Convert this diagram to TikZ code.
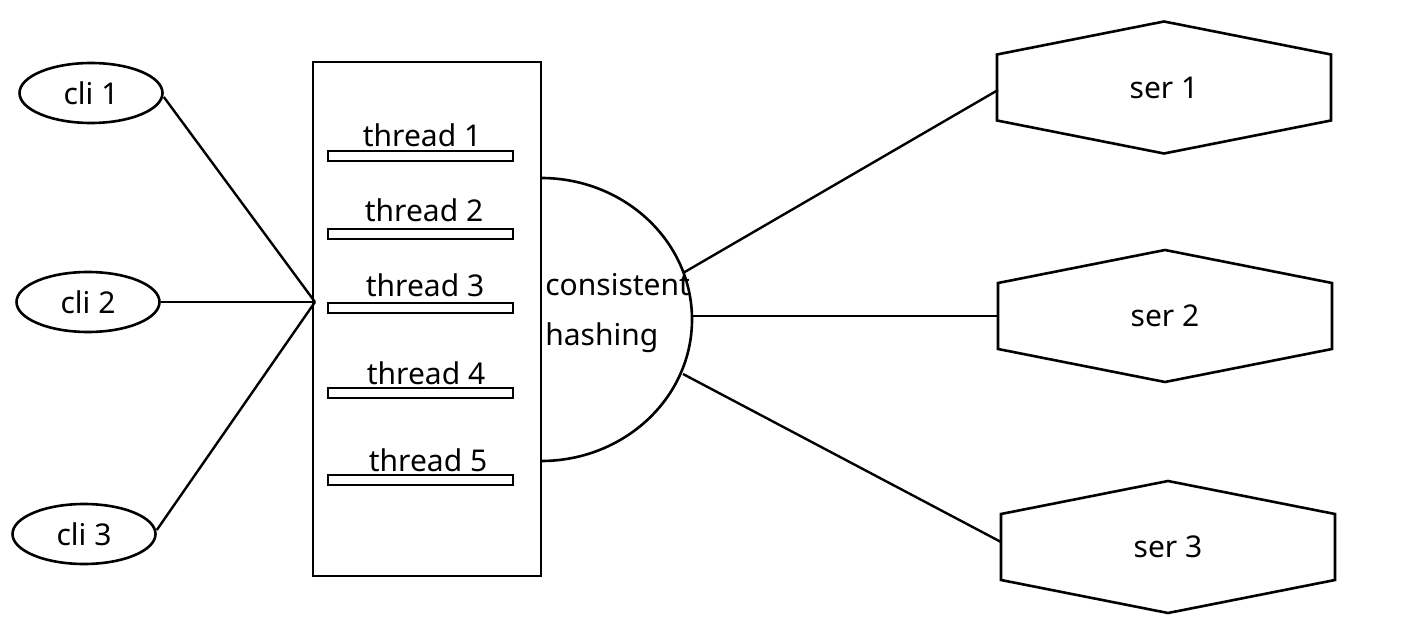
\documentclass[tikz,border=0pt]{standalone}
\usepackage{fontspec}
\setmainfont{Noto Sans}
\usetikzlibrary{shapes.geometric}
\begin{document}
\begin{tikzpicture}[x=1pt,y=-1pt,line width=2.6pt,
  every node/.style={font=\fontsize{30}{36}\selectfont},
  cli/.style={draw,ellipse,minimum width=143pt,minimum height=60pt,inner sep=0pt},
  bar/.style={draw,line width=2.8pt},
  lbl/.style={anchor=base,inner sep=0pt},
  link/.style={line width=2.4pt}]
\useasboundingbox (0,0) rectangle (1424,620);
% clients
\node[cli] (c1) at (91,93) {cli 1};
\node[cli] (c2) at (88,302) {cli 2};
\node[cli] (c3) at (84,534) {cli 3};
% thread pool box
\node[draw,minimum width=228pt,minimum height=514pt,inner sep=0pt] (box) at (427,319) {};
\coordinate (hub) at (315,302);
\foreach \i/\y in {1/151,2/229,3/303,4/388,5/475}{
  \draw[bar] (328,\y) rectangle (513,\y+10);
}
\node[lbl] (t1) at (422,147) {thread 1};
\node[lbl] (t2) at (424,222) {thread 2};
\node[lbl] (t3) at (425,297) {thread 3};
\node[lbl] (t4) at (426,384) {thread 4};
\node[lbl] (t5) at (428,471) {thread 5};
% consistent hashing half ellipse
\draw (541,178) arc[start angle=90,end angle=-90,x radius=151,y radius=-141.5];
\node[anchor=base west,inner sep=0pt] (ch1) at (544,295) {consistent};
\node[anchor=base west,inner sep=0pt] (ch2) at (544,345) {hashing};
\coordinate (h1) at (683,273);
\coordinate (h2) at (692,316);
\coordinate (h3) at (683,374);
% servers
\foreach \n/\cx/\cy in {1/1164/87.5,2/1165/316,3/1168/547}{
  \draw (\cx-167,\cy-33) -- (\cx,\cy-66) -- (\cx+167,\cy-33) -- (\cx+167,\cy+33)
        -- (\cx,\cy+66) -- (\cx-167,\cy+33) -- cycle;
  \node (s\n) at (\cx,\cy) {ser \n};
  \coordinate (s\n w) at (\cx-166,\cy);
}
% connectors
\draw[link] (c1.east) ++(0,4) coordinate (c1e) -- (hub);
\draw[link] (c2.east) -- (hub);
\draw[link] (c3.east) ++(0,-4) coordinate (c3e) -- (hub);
\coordinate (s1a) at (998,90);
\coordinate (s3a) at (1001,542);
\draw[link] (h1) -- (s1a);
\draw[link] (h2) -- (s2w);
\draw[link] (h3) -- (s3a);
\end{tikzpicture}
\end{document}
